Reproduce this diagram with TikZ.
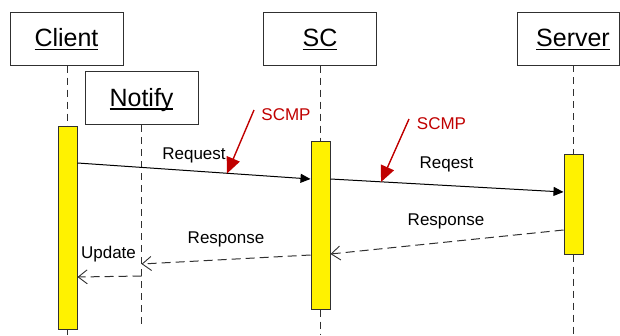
\documentclass[tikz,border=0pt]{standalone}
\usepackage{fontspec}
\setmainfont{Liberation Sans}
\usetikzlibrary{arrows.meta}
\definecolor{boxline}{HTML}{303030}
\definecolor{scmpred}{HTML}{C00000}
\newcommand\myul[1]{\setbox0\hbox{#1}\rlap{\rule[-3.8pt]{\wd0}{1.8pt}}\box0}
\begin{document}
\begin{tikzpicture}[x=1pt,y=-1pt,
  objbox/.style={draw=boxline,line width=1pt,fill=white,minimum width=113pt,minimum height=53pt,
    inner sep=0pt,text height=20pt,text depth=4pt,font=\fontsize{25}{25}\selectfont},
  actbox/.style={draw=boxline,line width=1pt,fill=yellow,minimum width=19pt,inner sep=0pt},
  lifeline/.style={draw=boxline,line width=1pt,dash pattern=on 7pt off 5pt},
  msg/.style={draw=black,line width=1pt,-{Triangle[length=10pt,width=9pt]}},
  reply/.style={draw=boxline,line width=1pt,dash pattern=on 9pt off 5pt,-{Straight Barb[length=9pt,width=14pt,line width=0.9pt]}},
  lbl/.style={anchor=base,inner sep=0pt,font=\fontsize{17}{17}\selectfont},
  redlbl/.style={lbl,text=scmpred},
  redarrow/.style={draw=scmpred,line width=1.4pt,-{Triangle[length=16pt,width=14pt]}}]
\useasboundingbox (0,0) rectangle (620,335);
\begin{scope}
\clip (0,0) rectangle (620,335);
% object boxes
\node[objbox] (client) at (66.5,38.5) {\myul{Client}};
\node[objbox] (notify) at (141.5,98) {\myul{Notify}};
\node[objbox] (sc) at (320,38.5) {\myul{SC}};
\node[objbox,minimum width=102.5pt] (server) at (568.25,38.5) {\hspace*{9.5pt}\myul{Server}};
% activation boxes
\node[actbox,minimum height=203pt] (ca) at (67.5,227.5) {};
\node[actbox,minimum height=168pt] (sa) at (320.5,225) {};
\node[actbox,minimum height=100pt] (va) at (573.5,204) {};
% lifeline end points
\coordinate (cbot) at (67.5,335);
\coordinate (nbot) at (141.5,327);
\coordinate (sbot) at (320.5,335);
\coordinate (vbot) at (573.5,335);
\coordinate (vtop) at (573.5,65);
\draw[lifeline] (client.south -| ca.north) -- (ca.north);
\draw[lifeline] (ca.south) -- (cbot);
\draw[lifeline] (notify.south) -- (nbot);
\draw[lifeline] (sc.south -| sa.north) -- (sa.north);
\draw[lifeline] (sa.south) -- (sbot);
\draw[lifeline] (vtop) -- (va.north);
\draw[lifeline] (va.south) -- (vbot);
% messages
\coordinate (m1s) at (ca.east |- 0,163);
\coordinate (m1e) at (sa.west |- 0,179);
\coordinate (m2s) at (sa.east |- 0,179);
\coordinate (m2e) at (va.west |- 0,192);
\coordinate (r1s) at (va.west |- 0,230);
\coordinate (r1e) at (sa.east |- 0,254);
\coordinate (r2s) at (sa.west |- 0,255);
\coordinate (r2e) at (nbot |- 0,264);
\coordinate (r3s) at (nbot |- 0,276);
\coordinate (r3e) at (ca.east |- 0,277);
\draw[msg] (m1s) -- (m1e);
\draw[msg] (m2s) -- (m2e);
\draw[reply] (r1s) -- (r1e);
\draw[reply] (r2s) -- (r2e);
\draw[reply] (r3s) -- (r3e);
% labels
\node[lbl] (lreq) at (194,159) {Request};
\node[lbl] (lreq2) at (446.5,168) {Reqest};
\node[lbl] (lresp1) at (446,225) {Response};
\node[lbl] (lresp2) at (226,243) {Response};
\node[lbl] (lupd) at (108.5,258) {Update};
% SCMP annotations
\node[redlbl] (scmp1) at (286,120) {SCMP};
\node[redlbl] (scmp2) at (441.5,129) {SCMP};
\coordinate (a1s) at (254,110);
\coordinate (a1e) at (227,173.5);
\coordinate (a2s) at (409,119);
\coordinate (a2e) at (381,182);
\draw[redarrow] (a1s) -- (a1e);
\draw[redarrow] (a2s) -- (a2e);
\end{scope}
\end{tikzpicture}
\end{document}
